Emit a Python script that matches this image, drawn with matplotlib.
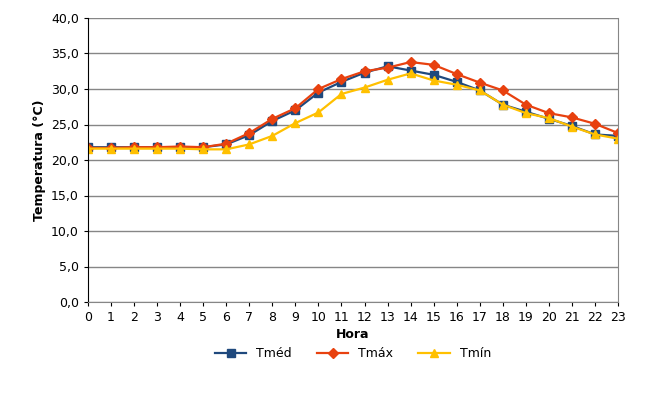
import numpy as np
import matplotlib.pyplot as plt

plt.rcParams['font.family'] = ['Verdana', 'DejaVu Sans']

hora = list(range(24))
tmed = [21.8, 21.8, 21.8, 21.8, 21.8, 21.8, 22.2, 23.5, 25.5, 27.0, 29.5, 31.0,
        32.3, 33.2, 32.6, 32.0, 31.0, 29.8, 27.8, 26.8, 25.8, 24.8, 23.6, 23.4]
tmax = [21.7, 21.7, 21.8, 21.8, 21.9, 21.8, 22.3, 23.8, 25.8, 27.3, 30.0, 31.4,
        32.5, 33.0, 33.8, 33.4, 32.1, 30.9, 29.8, 27.8, 26.6, 26.0, 25.1, 23.8]
tmin = [21.6, 21.6, 21.6, 21.6, 21.6, 21.5, 21.5, 22.2, 23.4, 25.2, 26.7, 29.3,
        30.2, 31.3, 32.2, 31.2, 30.6, 29.8, 27.8, 26.6, 25.9, 24.7, 23.6, 23.0]

fig = plt.figure(figsize=(6.52, 4.01), dpi=100)
ax = fig.add_axes([88/652, 1-302/401, 530/652, 284/401])

ax.plot(hora, tmed, color='#1f497d', marker='s', ms=5.5, lw=1.6, label='Tméd')
ax.plot(hora, tmax, color='#e8410f', marker='D', ms=5, lw=1.6, label='Tmáx')
ax.plot(hora, tmin, color='#ffc000', marker='^', ms=6, lw=1.6, label='Tmín')

ax.set_xlim(0, 23)
ax.set_ylim(0, 40)
ax.set_yticks(np.arange(0, 40.1, 5))
ax.set_yticklabels([f"{v:.1f}".replace('.', ',') for v in np.arange(0, 40.1, 5)])
ax.set_xticks(hora)
ax.tick_params(labelsize=9, length=3)
ax.grid(axis='y', color='#868686', lw=1)
ax.set_axisbelow(True)
ax.spines['top'].set_visible(False)
ax.spines['right'].set_color('#868686')
ax.spines['bottom'].set_color('#868686')
ax.set_xlabel('Hora', fontsize=9, fontweight='bold', labelpad=3)
ax.set_ylabel('Temperatura (°C)', fontsize=9, fontweight='bold')
ax.legend(loc='upper center', bbox_to_anchor=(0.5, -0.12), ncol=3, frameon=False,
          fontsize=9, handlelength=2.5)

plt.savefig('out.png', dpi=100)
